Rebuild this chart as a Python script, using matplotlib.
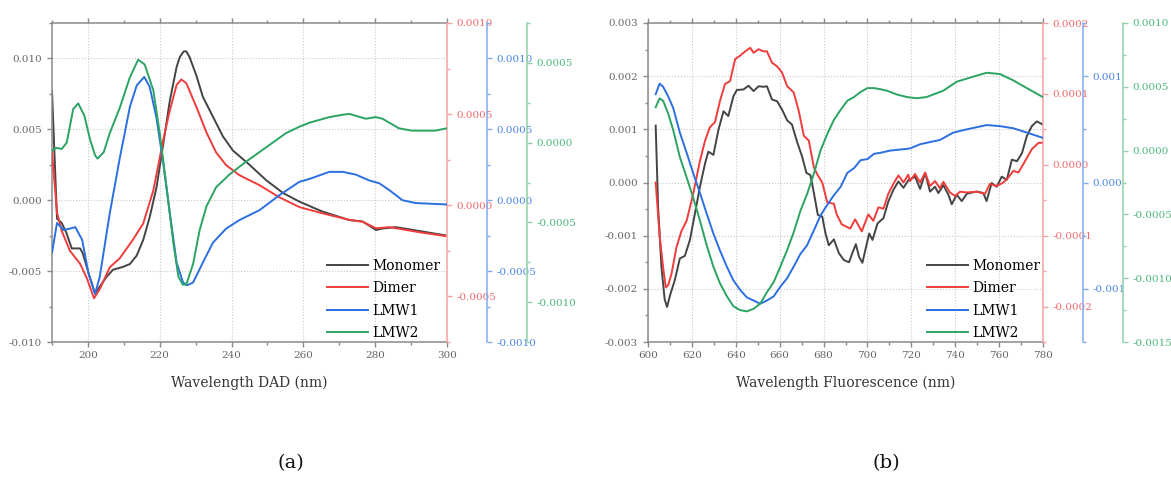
import matplotlib
matplotlib.use("Agg")
import matplotlib.pyplot as plt
from matplotlib.ticker import MultipleLocator, FuncFormatter

plt.rcParams['font.family'] = ['DejaVu Serif']
plt.rcParams['axes.unicode_minus'] = False

# ---------------- (a) DAD spectra ----------------
mono_a_wl = [190, 191.4, 192.7, 194, 195.5, 197.8, 198.5, 200.5, 202, 203.3, 205.2, 207, 209.8,
             211.7, 213.6, 215.4, 217.2, 219.1, 221, 222.8, 224.7, 225.6, 226.7, 227.4, 228.3,
             230.2, 232, 234.8, 237.6, 240.4, 245, 249.7, 254.4, 258.9, 265.3, 272.8, 276.5,
             280.2, 282, 285.8, 293, 300]
mono_a = [0.0077, -0.0013, -0.0016, -0.0023, -0.0034, -0.0034, -0.0037, -0.0054, -0.0066,
          -0.0061, -0.0054, -0.0049, -0.0047, -0.0045, -0.0039, -0.0028, -0.0012, 0.0009,
          0.0040, 0.0070, 0.0094, 0.0101, 0.0105, 0.0105, 0.0101, 0.0088, 0.0073, 0.0059,
          0.0045, 0.0035, 0.0025, 0.0014, 0.0005, -0.0001, -0.0008, -0.0014, -0.0015,
          -0.0021, -0.0020, -0.0019, -0.0022, -0.0025]

dimer_a_wl = [190, 191.4, 192.7, 195, 197.8, 199.7, 201.7, 203.3, 206.1, 208.9, 212.5, 215.4,
              218.2, 221, 222.8, 224.7, 226, 227.4, 230.2, 233, 235.7, 238.5, 242.2, 247.8,
              253.3, 258.9, 265.3, 272.8, 276.5, 280.2, 284, 293, 300]
dimer_a = [0.00029, -0.00004, -0.00014, -0.00025, -0.00032, -0.00040, -0.00051, -0.00046,
           -0.00034, -0.00029, -0.00019, -0.00010, 0.00008, 0.00036, 0.00052, 0.00066,
           0.00069, 0.00067, 0.00054, 0.00040, 0.00029, 0.00022, 0.000165, 0.00011,
           0.000044, -0.00001, -0.000044, -0.00008, -0.00009, -0.000126, -0.00012,
           -0.00015, -0.00017]

lmw1_a_wl = [190, 191.4, 193.2, 195, 196.5, 198.4, 200.2, 202, 203.3, 206.1, 208.9, 211.7,
             213.6, 215.7, 217.2, 219.1, 221, 222.8, 224.7, 226.5, 227.6, 229.3, 232, 234.8,
             238.5, 242.2, 247.8, 253.3, 258.9, 261.7, 267.2, 271, 274.7, 278.3, 281.1, 284,
             287.6, 291.3, 300]
lmw1_a = [-0.00037, -0.00016, -0.00021, -0.00020, -0.00019, -0.00028, -0.00052, -0.00066,
          -0.00054, -0.00009, 0.00030, 0.00066, 0.00081, 0.00087, 0.00080, 0.00058, 0.00026,
          -0.00009, -0.00044, -0.00058, -0.00060, -0.00058, -0.00044, -0.00030, -0.00020,
          -0.00014, -0.00007, 0.000035, 0.00013, 0.00015, 0.00020, 0.00020, 0.00018,
          0.00014, 0.00012, 0.00007, 0.0, -0.00002, -0.00003]

lmw2_a_wl = [190, 191.3, 192.7, 194.1, 195.9, 197.3, 199, 200.6, 202, 202.7, 204.4, 206.1,
             208.9, 211.7, 214, 215.8, 218.2, 220, 221.9, 223.8, 225.2, 226.4, 227.4,
             229.3, 231.1, 233, 235.7, 239.4, 244, 249.6, 255.2, 258.9, 261.7, 267.2, 271,
             272.8, 277.4, 280.2, 282, 286.6, 290.2, 296.7, 300]
lmw2_a = [-0.00005, -0.000033, -0.00004, 0.0, 0.00021, 0.000246, 0.00017, 0.00002, -0.00008,
          -0.0001, -0.00006, 0.00006, 0.00022, 0.00041, 0.00052, 0.00049, 0.00033,
          0.00006, -0.00028, -0.00063, -0.00084, -0.00089, -0.00089, -0.00076, -0.00055,
          -0.00040, -0.00028, -0.00020, -0.00012, -0.00003, 0.00006, 0.00010, 0.000125,
          0.00016, 0.000175, 0.00018, 0.00015, 0.00016, 0.00015, 0.00009, 0.000075,
          0.000075, 0.00009]

# ---------------- (b) fluorescence spectra ----------------
mono_b_wl = [603.5, 604.6, 606.1, 607.6, 608.7, 610.2, 612.2, 614.5, 616.8, 619.1, 621.4, 623.7,
             626.0, 627.5, 629.8, 632.1, 634.4, 636.6, 638.9, 640.5, 643.5, 645.8, 648.1, 650.4,
             652.7, 654.2, 656.5, 658.8, 661.1, 663.4, 665.6, 667.9, 670.2, 672.2, 674.0, 675.6,
             677.4, 679.4, 680.9, 682.4, 684.7, 687.0, 689.3, 691.6, 693.1, 694.7, 696.2, 697.7,
             699.2, 700.8, 702.3, 704.6, 707.3, 709.5, 711.8, 714.1, 716.4, 718.6, 721.7, 724.0,
             726.3, 728.5, 730.8, 732.3, 734.6, 736.9, 738.4, 740.7, 743.0, 745.3, 749.8, 752.8,
             754.3, 756.6, 758.9, 761.2, 763.5, 765.8, 768.1, 770.4, 772.6, 774.9, 777.2, 779.9]
mono_b = [0.00107, -0.00045, -0.00158, -0.0022, -0.00234, -0.0021, -0.00184, -0.00143, -0.00138,
          -0.00108, -0.00058, -0.000075, 0.00036, 0.00058, 0.00052, 0.00099, 0.00134, 0.00125,
          0.00162, 0.00174, 0.00175, 0.00182, 0.00172, 0.00181, 0.0018, 0.00181, 0.00156,
          0.00153, 0.00137, 0.00117, 0.00109, 0.00077, 0.00049, 0.00018, 0.00014, -0.0002,
          -0.00061, -0.00064, -0.00096, -0.00118, -0.00107, -0.00133, -0.00146, -0.0015,
          -0.00133, -0.00116, -0.0014, -0.00151, -0.00124, -0.00096, -0.00108, -0.00077,
          -0.00067, -0.00036, -0.00014, 0.00002, -0.0001, 0.00004, 0.00011, -0.00012, 0.00018,
          -0.00017, -0.00008, -0.0002, -0.00005, -0.00023, -0.00041, -0.00023, -0.00035,
          -0.00021, -0.00017, -0.0002, -0.00035, -0.00001, -0.00008, 0.00011, 0.00005,
          0.00043, 0.0004, 0.00055, 0.00087, 0.00106, 0.00115, 0.00109]

dimer_b_wl = [603.5, 605.3, 606.9, 608.1, 609.2, 610.7, 613.0, 615.3, 617.6, 620.6, 623.7, 626.0,
              628.2, 630.5, 632.8, 635.1, 637.4, 639.7, 642.0, 644.3, 646.6, 648.1, 650.4, 652.7,
              654.2, 656.5, 658.8, 661.1, 663.4, 666.4, 668.7, 671.0, 673.3, 675.6, 677.4, 679.4,
              681.7, 684.7, 686.0, 688.3, 692.1, 694.4, 697.4, 700.4, 702.7, 705.0, 707.3, 709.5,
              711.8, 714.1, 716.4, 718.6, 719.4, 721.7, 724.0, 726.3, 728.5, 730.8, 733.0, 734.6,
              737.6, 739.9, 742.2, 745.3, 749.8, 753.6, 755.8, 758.9, 761.9, 764.2, 766.5, 768.8,
              771.9, 774.9, 778.0, 779.9]
dimer_b = [-0.000025, -0.0001, -0.000145, -0.000173, -0.00017, -0.000154, -0.000116, -0.000093,
           -0.000079, -0.000041, 0.000006, 0.000034, 0.000053, 0.00006, 0.00009, 0.000114,
           0.000118, 0.000149, 0.000154, 0.00016, 0.000165, 0.000158, 0.000163, 0.00016,
           0.00016, 0.000144, 0.000139, 0.00013, 0.000111, 0.000102, 0.000076, 0.000041,
           0.000034, -0.000004, -0.000015, -0.000025, -0.000053, -0.000055, -0.00007,
           -0.000084, -0.00009, -0.000077, -0.000094, -0.00007, -0.000079, -0.00006,
           -0.000062, -0.000041, -0.000027, -0.000015, -0.000025, -0.000014, -0.000023,
           -0.000013, -0.000025, -0.000011, -0.00003, -0.000023, -0.000033, -0.000024,
           -0.000039, -0.000044, -0.000038, -0.000039, -0.000038, -0.000041, -0.000027,
           -0.00003, -0.000025, -0.000018, -0.0000085, -0.000011, 0.0000056, 0.000022,
           0.000031, 0.000031]

lmw1_b_wl = [603.5, 605.3, 606.9, 609.2, 611.5, 614.5, 617.6, 620.6, 623.7, 626.7, 629.8, 632.8,
             635.9, 638.9, 642.0, 645.0, 648.1, 651.1, 654.2, 657.3, 660.3, 663.4, 666.4, 669.5,
             672.5, 675.6, 678.6, 681.7, 684.7, 687.8, 690.8, 693.9, 696.9, 700.0, 703.0, 706.1,
             710.3, 714.9, 719.4, 724.0, 733.0, 739.2, 745.3, 754.3, 760.4, 766.5, 772.6, 779.9]
lmw1_b = [0.00083, 0.00093, 0.0009, 0.00081, 0.0007, 0.00047, 0.00028, 0.000088, -0.0001,
          -0.00029, -0.00048, -0.00064, -0.00079, -0.00092, -0.00101, -0.00108, -0.00111,
          -0.00114, -0.00111, -0.00107, -0.00098, -0.0009, -0.00079, -0.00067, -0.00059,
          -0.00045, -0.00031, -0.00021, -0.00012, -0.00004, 0.00009, 0.000135, 0.00021,
          0.00022, 0.00027, 0.00028, 0.0003, 0.00031, 0.00032, 0.00036, 0.0004, 0.00047,
          0.0005, 0.00054, 0.00053, 0.00051, 0.00047, 0.00042]

lmw2_b_wl = [603.5, 605.3, 606.9, 609.2, 611.5, 614.5, 617.6, 620.6, 623.7, 626.7, 629.8, 632.8,
             635.9, 638.9, 642.0, 645.0, 648.1, 651.1, 654.2, 657.3, 660.3, 663.4, 666.4, 669.5,
             672.5, 675.6, 678.6, 681.7, 684.7, 687.8, 690.8, 693.9, 696.9, 700.0, 703.0, 706.1,
             708.8, 713.3, 717.9, 722.5, 727.0, 734.6, 740.7, 748.3, 754.3, 760.4, 766.5, 772.6,
             779.9]
lmw2_b = [0.00034, 0.00041, 0.00039, 0.00029, 0.00016, -0.00005, -0.00021, -0.00037, -0.00055,
          -0.00074, -0.00091, -0.00104, -0.00114, -0.00122, -0.00125, -0.00126, -0.00124,
          -0.0012, -0.00111, -0.00103, -0.00091, -0.00078, -0.00064, -0.00047, -0.00034,
          -0.00018, 0.0, 0.00013, 0.00024, 0.00032, 0.00039, 0.00042, 0.00046, 0.00049,
          0.00049, 0.00048, 0.00047, 0.00044, 0.00042, 0.00041, 0.00042, 0.00047, 0.00054,
          0.00058, 0.00061, 0.0006, 0.00055, 0.00049, 0.00042]

labels = ["Monomer", "Dimer", "LMW1", "LMW2"]

# ---------------- styling ----------------
LINE = {"Monomer": "#444444", "Dimer": "#f03c3c", "LMW1": "#2c6fe0", "LMW2": "#2ba463"}
SPINE = {"main": "#8a8a8a", "Dimer": "#f6a2a2", "LMW1": "#82abf0", "LMW2": "#90d0a8"}
TEXT = {"main": "#666666", "Dimer": "#f26a6a", "LMW1": "#4a85e6", "LMW2": "#4db57c"}

W, H = 1171, 478
fig = plt.figure(figsize=(W / 100, H / 100), dpi=100)
TOP, BOT = 23, 342


def rect(l, r):
    return [l / W, 1 - BOT / H, (r - l) / W, (BOT - TOP) / H]


def fmt(dec):
    def f(v, pos):
        if abs(v) < 1e-12:
            v = 0.0
        return f"{v:.{dec}f}"
    return FuncFormatter(f)


def style_y(ax, lim, major, minor, dec, key):
    ax.set_ylim(*lim)
    ax.yaxis.set_major_locator(MultipleLocator(major))
    ax.yaxis.set_minor_locator(MultipleLocator(minor))
    ax.yaxis.set_major_formatter(fmt(dec))
    ax.tick_params(axis='y', which='both', direction='out', color=SPINE[key],
                   labelcolor=TEXT[key], labelsize=7.5, width=1.0)
    ax.tick_params(axis='y', which='major', length=3.5, pad=3.5)
    ax.tick_params(axis='y', which='minor', length=2)


def panel(l, r, xlim, main_y, red_y, blue_y, green_y, data, xlabel, tag, tag_x, leg_right):
    ax = fig.add_axes(rect(l, r))
    ax.set_xlim(*xlim)
    ax.xaxis.set_major_locator(MultipleLocator(20))
    ax.xaxis.set_minor_locator(MultipleLocator(10))
    ax.tick_params(axis='x', which='both', direction='out', top=True, color=SPINE["main"],
                   labelcolor=TEXT["main"], labelsize=7.5, width=1.0)
    ax.tick_params(axis='x', which='major', length=3.5, pad=3)
    ax.tick_params(axis='x', which='minor', length=2)
    style_y(ax, *main_y, "main")
    ax.grid(True, which='major', linestyle=':', color='#c8c8c8', linewidth=0.8)
    for s in ("left", "top", "bottom"):
        ax.spines[s].set_color(SPINE["main"])
        ax.spines[s].set_linewidth(1.1)
    ax.spines["right"].set_visible(False)

    handles = []
    wl, val = data["Monomer"]
    handles.append(ax.plot(wl, val, color=LINE["Monomer"], lw=1.4)[0])

    for key, ycfg, pos in (("Dimer", red_y, 1.0), ("LMW1", blue_y, 1.1013),
                           ("LMW2", green_y, 1.2025)):
        tw = ax.twinx()
        for s in ("left", "top", "bottom"):
            tw.spines[s].set_visible(False)
        tw.spines["right"].set_position(("axes", pos))
        tw.spines["right"].set_color(SPINE[key])
        tw.spines["right"].set_linewidth(1.1)
        style_y(tw, *ycfg, key)
        wl, val = data[key]
        handles.append(tw.plot(wl, val, color=LINE[key], lw=1.4)[0])

    tw.legend(handles, labels, loc='lower right', frameon=False, fontsize=10,
              bbox_to_anchor=(leg_right / W, 1 - 340 / H), bbox_transform=fig.transFigure,
              borderpad=0, borderaxespad=0, handlelength=3.0, handletextpad=0.25,
              labelspacing=0.6)

    fig.text((l + r) / 2 / W, 1 - 383 / H, xlabel, ha='center', va='center',
             fontsize=10, color='#333333')
    fig.text(tag_x / W, 1 - 463 / H, tag, ha='center', va='center', fontsize=14,
             color='#111111')


panel(52, 447, (190, 300),
      ((-0.010, 0.0125), 0.005, 0.0025, 3),
      ((-0.00075, 0.0010), 0.0005, 0.00025, 4),
      ((-0.0010, 0.00125), 0.0005, 0.00025, 4),
      ((-0.00125, 0.00075), 0.0005, 0.00025, 4),
      {"Monomer": (mono_a_wl, mono_a), "Dimer": (dimer_a_wl, dimer_a),
       "LMW1": (lmw1_a_wl, lmw1_a), "LMW2": (lmw2_a_wl, lmw2_a)},
      "Wavelength DAD (nm)", "(a)", 291, 440)

panel(648, 1043, (600, 780),
      ((-0.003, 0.003), 0.001, 0.0005, 3),
      ((-0.00025, 0.0002), 0.0001, 0.00005, 4),
      ((-0.0015, 0.0015), 0.001, 0.0005, 3),
      ((-0.0015, 0.0010), 0.0005, 0.00025, 4),
      {"Monomer": (mono_b_wl, mono_b), "Dimer": (dimer_b_wl, dimer_b),
       "LMW1": (lmw1_b_wl, lmw1_b), "LMW2": (lmw2_b_wl, lmw2_b)},
      "Wavelength Fluorescence (nm)", "(b)", 886, 1040)

fig.savefig("out.png", dpi=100)
